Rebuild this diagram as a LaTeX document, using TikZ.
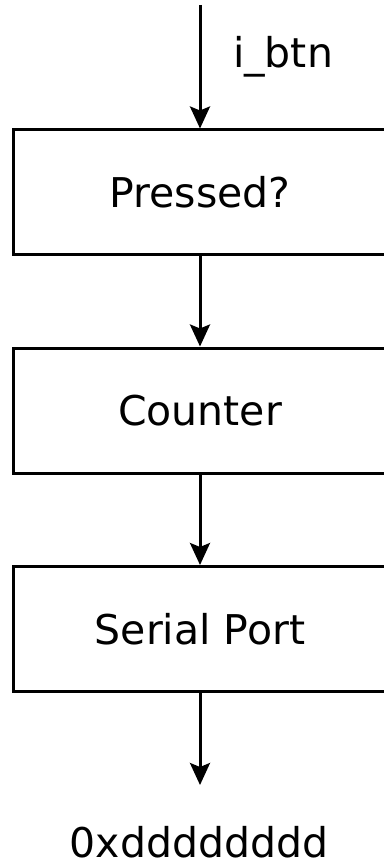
\documentclass[tikz,border=0pt]{standalone}
\usepackage{fontspec}
\setmainfont{DejaVu Sans}
\usetikzlibrary{arrows.meta}

\tikzset{
  blockbox/.style={draw, line width=3pt, minimum width=374pt, minimum height=125pt, inner sep=0pt, font=\fontsize{41}{49}\selectfont},
  flow/.style={line width=3pt, -{Stealth[length=22pt,width=20pt,inset=4pt]}},
  sigtext/.style={inner sep=0pt, font=\fontsize{41}{49}\selectfont}
}

\begin{document}
\begin{tikzpicture}[x=1pt,y=1pt,yscale=-1,xscale=1]
\useasboundingbox (0,0) rectangle (383,866);

%Blocks
\node [blockbox] (pressed) at (200,192.5) {Pressed?};
\node [blockbox] (counter) at (200,410.5) {Counter};
\node [blockbox] (serial) at (200,629) {Serial Port};

%Input and output ends
\coordinate (btnin) at (200,5);
\coordinate (dataout) at (200,785);

%Arrows
\draw [flow] (btnin) -- (pressed);
\draw [flow] (pressed) -- (counter);
\draw [flow] (counter) -- (serial);
\draw [flow] (serial) -- (dataout);

% Text Node
\node [sigtext, anchor=base] (btnlabel) at (283,68) {i\_btn};
% Text Node
\node [sigtext, anchor=base] (datalabel) at (199,857) {0xdddddddd};

\end{tikzpicture}
\end{document}
